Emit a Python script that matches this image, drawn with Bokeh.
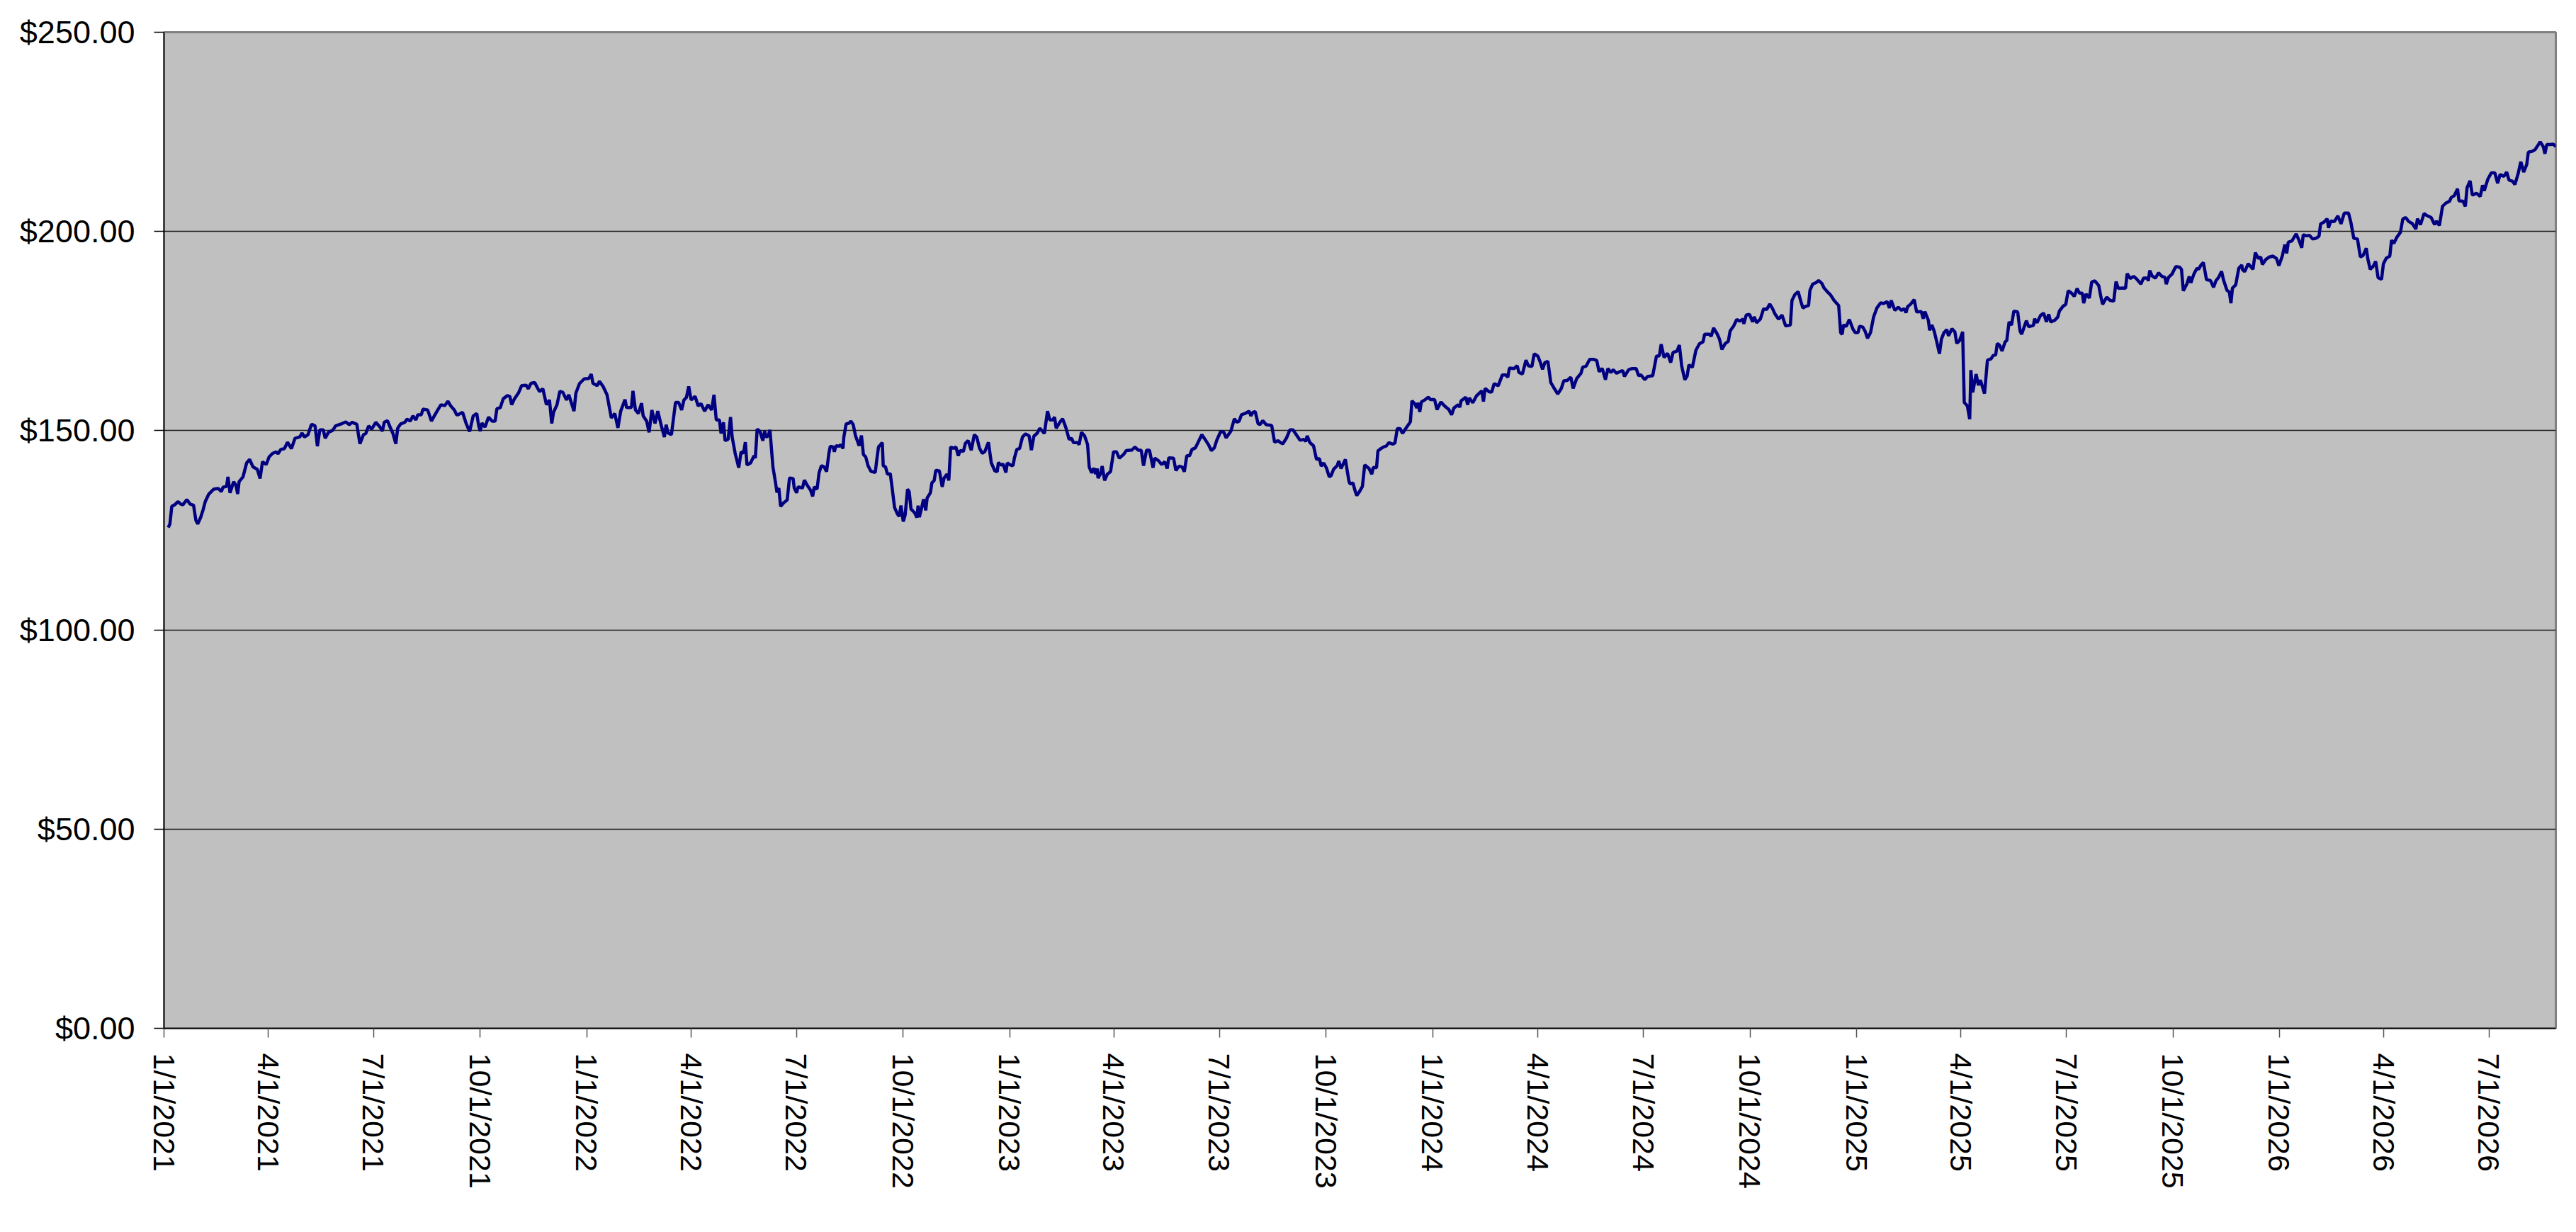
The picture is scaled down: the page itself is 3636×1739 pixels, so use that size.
import datetime
from bokeh.plotting import figure
from bokeh.models import Range1d, FixedTicker, NumeralTickFormatter, ColumnDataSource
from bokeh.embed import file_html
from bokeh.resources import INLINE

START_DATE = datetime.date(2021, 1, 1)

# ---- data: days since 1/1/2021 and closing values ----
DAYS_2021A = [
    3.7, 5.1, 6.7, 9.2, 12.2, 14.3, 16.3, 19.8, 22.4, 25.5,
    27.5, 29.1, 31.6, 33.6, 35.6, 38.7, 42.8, 46.9, 49.5, 50.9,
    54.0, 55.2, 57.0, 60.1, 62.1, 63.6, 64.8, 68.2, 71.3, 73.9,
    76.8, 80.5, 82.9, 85.0, 88.2, 90.7, 93.7, 96.8, 98.4, 100.8,
    103.9, 106.6, 110.0, 113.1, 117.1, 119.2, 121.2, 124.3, 127.3, 130.4,
    132.4, 134.5, 137.5, 139.1, 142.0, 145.7, 148.1, 153.8, 156.9, 159.9,
    162.4, 166.4, 169.1, 172.2, 174.2, 176.6, 179.3, 182.8, 186.4, 188.5,
    190.1, 192.9, 195.6, 197.6, 200.1, 201.7, 204.3, 207.8, 209.8, 212.5,
    214.9, 217.4, 219.0, 222.1, 223.5, 227.6, 230.8, 233.3, 236.3, 239.0,
    242.4, 245.1, 247.5, 250.6, 252.6]
PRICE_2021A = [
    125.7, 126.6, 131.0, 131.4, 132.2, 131.6, 131.4, 132.7, 131.6, 131.3,
    127.5, 126.6, 128.2, 130.0, 132.2, 134.1, 135.3, 135.5, 134.7, 135.8,
    136.0, 138.4, 134.4, 137.2, 136.3, 134.1, 137.2, 138.4, 141.9, 142.8,
    140.9, 140.3, 138.0, 142.2, 141.5, 143.4, 144.3, 144.7, 144.2, 145.3,
    145.5, 147.1, 145.5, 148.1, 148.4, 149.4, 148.4, 149.0, 151.6, 151.2,
    146.1, 150.2, 150.2, 148.1, 149.6, 150.1, 151.2, 151.8, 152.2, 151.5,
    152.1, 151.6, 146.7, 149.0, 149.3, 151.2, 150.4, 152.1, 150.9, 149.9,
    152.1, 152.5, 150.6, 149.3, 146.7, 150.6, 151.7, 152.1, 152.9, 152.4,
    153.7, 152.7, 154.0, 154.0, 155.4, 155.2, 152.4, 153.7, 155.2, 156.5,
    156.3, 157.4, 156.2, 155.2, 154.0]

DAYS_2021B = [
    253.7, 257.7, 260.8, 263.8, 266.9, 270.0, 271.6, 273.0, 274.4, 277.1,
    280.1, 283.2, 285.8, 287.3, 290.3, 292.8, 296.4, 298.5, 300.1, 302.5,
    306.2, 308.7, 312.7, 314.4, 316.8, 319.9, 324.1, 327.0, 330.1, 332.7,
    334.7, 336.2, 339.2, 341.7, 344.3, 347.4, 349.4, 353.9, 355.5, 358.6,
    362.7, 366.7, 368.8, 370.2, 373.9, 375.9, 379.0, 382.4, 386.1, 389.1,
    391.8, 394.2, 397.9, 399.3, 403.4, 404.8, 406.9, 409.5, 412.2, 413.6,
    416.6, 418.7, 421.1, 423.8, 426.2, 429.3, 431.9, 433.4, 435.0, 438.0,
    441.5, 444.1, 446.8, 448.8, 450.9, 452.9, 455.0, 458.4, 461.1, 463.5,
    466.6, 469.6, 472.7, 474.7, 476.7, 479.4, 480.8, 482.9, 484.3, 486.9,
    489.0, 490.4, 493.0, 496.1, 498.1, 500.2, 501.8, 503.2, 506.3, 509.3]
PRICE_2021B = [
    154.0, 154.6, 151.8, 149.8, 153.7, 154.3, 151.2, 149.9, 151.9, 150.9,
    153.4, 152.4, 152.4, 155.5, 155.8, 158.0, 158.8, 158.6, 156.5, 158.0,
    159.6, 161.3, 161.4, 160.5, 161.9, 162.1, 159.8, 160.5, 156.5, 157.7,
    151.8, 154.6, 156.5, 159.9, 159.6, 157.7, 159.0, 154.9, 159.4, 161.8,
    163.0, 163.1, 164.2, 161.9, 161.3, 162.4, 161.1, 159.0, 153.2, 154.3,
    150.7, 154.9, 157.8, 155.8, 155.8, 160.0, 155.2, 154.3, 156.9, 153.7,
    152.4, 149.6, 155.2, 151.8, 154.9, 151.2, 148.4, 151.5, 149.4, 149.0,
    157.1, 157.1, 155.2, 157.7, 158.3, 161.1, 157.7, 158.6, 156.2, 156.8,
    154.9, 156.5, 155.2, 159.0, 152.7, 152.7, 149.3, 152.1, 147.5, 147.8,
    153.4, 148.4, 144.3, 140.7, 144.7, 144.3, 147.1, 141.4, 141.9, 143.7]

DAYS_2022 = [
    510.4, 512.0, 514.4, 516.9, 518.5, 519.5, 521.6, 523.0, 525.6, 527.7,
    529.1, 530.7, 532.2, 534.8, 537.9, 539.9, 543.0, 544.0, 546.0, 547.4,
    551.1, 552.7, 555.2, 558.2, 559.9, 561.3, 563.7, 565.4, 567.4, 569.8,
    571.9, 573.9, 575.1, 577.6, 578.6, 580.0, 582.7, 584.1, 586.1, 586.8,
    588.8, 591.4, 592.9, 594.9, 596.9, 600.0, 602.0, 603.7, 605.7, 607.7,
    610.2, 613.9, 615.3, 616.7, 620.0, 620.8, 622.8, 624.4, 626.9, 628.5,
    630.6, 633.0, 634.6, 636.1, 638.1, 639.7, 641.8, 643.2, 644.8, 647.9,
    649.9, 650.9, 652.0, 654.0, 655.6, 657.5, 658.7, 661.5, 662.8, 664.8,
    666.2, 669.3, 671.7, 673.3, 675.8, 677.4, 679.0, 681.5, 683.5, 685.6,
    687.2, 690.0, 691.7, 694.1, 696.8, 699.4, 701.5, 703.9, 706.3, 708.4,
    711.6, 714.1, 717.2, 719.2, 720.2, 722.2, 724.3, 726.7, 727.9, 730.4,
    732.8, 734.1, 736.1, 738.5, 741.0, 743.6, 746.7, 748.7, 750.8, 753.8,
    755.9, 759.9, 762.6, 764.6]
PRICE_2022 = [
    143.1, 150.4, 149.8, 147.5, 149.9, 148.4, 148.7, 150.2, 140.9, 137.2,
    134.5, 135.6, 131.0, 131.9, 132.6, 138.1, 138.0, 135.6, 134.4, 135.9,
    135.6, 137.6, 136.3, 135.0, 133.5, 135.9, 135.3, 139.4, 141.2, 140.9,
    139.7, 144.3, 146.1, 145.9, 144.7, 146.2, 146.1, 146.5, 145.5, 148.4,
    151.7, 151.9, 152.4, 151.5, 148.7, 146.2, 148.8, 144.0, 143.4, 141.2,
    139.8, 139.5, 142.8, 145.9, 147.0, 141.2, 140.9, 139.1, 139.2, 135.6,
    130.7, 129.1, 128.5, 131.2, 127.2, 128.8, 135.3, 134.7, 130.3, 129.4,
    128.2, 131.2, 128.3, 130.7, 132.8, 130.0, 133.1, 134.4, 136.9, 137.5,
    140.1, 139.9, 135.9, 138.1, 139.1, 137.5, 145.9, 145.6, 145.9, 143.7,
    145.0, 144.8, 146.8, 147.5, 145.1, 149.0, 148.4, 145.6, 144.3, 144.7,
    147.1, 141.9, 139.9, 139.7, 142.0, 141.4, 141.6, 139.5, 141.9, 141.4,
    141.2, 143.2, 145.3, 145.5, 148.4, 149.2, 148.7, 145.1, 148.6, 149.4,
    150.6, 149.3, 154.9, 152.7]

DAYS_2023 = [
    767.1, 768.7, 770.1, 773.2, 775.6, 778.3, 781.3, 783.4, 785.0, 788.5,
    789.9, 791.9, 794.6, 797.2, 798.6, 800.7, 802.7, 804.1, 805.4, 806.2,
    808.2, 809.8, 811.9, 814.3, 817.0, 819.6, 822.1, 824.5, 828.2, 830.6,
    833.3, 835.3, 838.0, 840.8, 843.5, 845.5, 848.1, 850.6, 853.7, 855.1,
    858.3, 861.2, 863.8, 865.9, 867.3, 871.4, 873.4, 876.1, 878.7, 880.7,
    882.8, 885.2, 887.3, 890.3, 893.0, 895.8, 899.1, 901.5, 904.0, 906.6,
    908.7, 912.1, 914.8, 916.8, 920.9, 923.9, 926.0, 928.0, 930.0, 933.1,
    936.6, 938.2, 939.8, 941.9, 944.3, 945.9, 948.4, 951.4, 956.1, 958.6,
    961.6, 963.7, 965.7, 968.8, 971.8, 974.5, 977.3, 980.6, 984.0, 985.5,
    986.7, 989.1, 992.2, 994.8, 997.3, 998.9, 1001.0, 1003.4, 1005.8, 1007.5,
    1009.5, 1012.6, 1014.0, 1016.0, 1019.7, 1022.8]
PRICE_2023 = [
    152.7, 153.4, 150.6, 152.1, 153.0, 150.9, 147.8, 148.1, 147.0, 147.0,
    146.5, 149.6, 148.7, 146.5, 140.9, 139.4, 140.6, 139.1, 140.5, 138.1,
    139.1, 141.1, 137.5, 139.1, 139.7, 144.7, 144.7, 143.1, 144.0, 145.0,
    145.1, 145.1, 145.9, 145.1, 145.1, 141.2, 145.1, 145.1, 140.7, 143.1,
    142.5, 141.5, 142.2, 140.5, 143.2, 143.1, 140.0, 141.1, 140.9, 139.7,
    143.7, 143.7, 145.3, 145.7, 147.3, 149.0, 147.6, 146.5, 145.0, 145.7,
    147.6, 149.8, 149.6, 148.2, 149.9, 153.0, 152.1, 152.4, 154.0, 154.3,
    154.9, 153.7, 154.6, 154.8, 151.8, 151.5, 152.5, 151.5, 151.3, 147.1,
    147.5, 147.0, 146.7, 148.1, 150.2, 150.2, 149.0, 147.6, 147.8, 147.3,
    148.7, 147.0, 146.2, 142.8, 143.0, 141.1, 141.9, 140.6, 138.4, 138.8,
    140.3, 141.2, 142.4, 140.5, 142.8, 137.3]

DAYS_2024A = [
    1023.8, 1026.2, 1027.9, 1029.5, 1031.9, 1034.4, 1036.4, 1040.1, 1042.5, 1043.8,
    1046.6, 1047.8, 1050.3, 1053.3, 1054.8, 1057.4, 1060.5, 1062.5, 1064.5, 1067.0,
    1069.0, 1072.7, 1075.8, 1077.2, 1079.8, 1081.3, 1082.5, 1083.9, 1085.3, 1088.6,
    1091.4, 1093.1, 1096.7, 1098.8, 1102.2, 1105.3, 1109.0, 1111.4, 1113.4, 1117.1,
    1118.5, 1119.6, 1123.6, 1125.3, 1126.7, 1129.7, 1132.8, 1137.5, 1138.9, 1140.3,
    1144.0, 1146.0, 1148.1, 1151.7, 1155.2, 1158.3, 1159.9, 1161.3, 1165.4, 1168.0,
    1169.5, 1172.5, 1175.6, 1177.6, 1180.7, 1182.7, 1185.8, 1187.8, 1189.9, 1191.9,
    1194.5, 1197.0, 1200.0, 1203.1, 1206.1, 1208.2, 1211.2, 1214.3, 1216.3, 1219.4,
    1223.1, 1224.5, 1227.5, 1230.6, 1233.7, 1236.7, 1238.7, 1241.4, 1244.2, 1246.3,
    1248.9, 1251.0, 1253.6, 1256.5, 1259.1, 1260.6, 1264.2, 1267.3, 1270.7, 1272.8,
    1274.8, 1278.1]
PRICE_2024A = [
    136.6, 136.9, 135.1, 133.7, 134.7, 136.0, 141.4, 140.5, 139.1, 140.8,
    140.7, 144.9, 145.5, 146.0, 146.1, 147.0, 146.6, 146.9, 150.5, 150.5,
    149.3, 150.9, 152.2, 157.5, 156.7, 155.7, 157.0, 154.7, 157.2, 157.8,
    158.4, 157.8, 157.8, 155.3, 157.2, 156.2, 155.3, 154.0, 155.7, 156.5,
    155.9, 157.5, 158.4, 156.5, 158.2, 157.0, 158.7, 160.0, 157.3, 160.6,
    159.7, 159.7, 161.8, 161.3, 164.0, 164.0, 163.4, 165.7, 165.6, 166.3,
    164.6, 164.2, 167.7, 166.3, 166.1, 169.3, 168.7, 167.3, 165.4, 167.1,
    167.4, 162.1, 160.6, 159.2, 160.6, 162.5, 162.6, 163.4, 160.6, 163.1,
    164.4, 165.9, 166.2, 167.9, 167.9, 167.6, 164.8, 165.6, 162.8, 165.6,
    164.6, 165.3, 164.4, 164.8, 165.1, 163.6, 165.3, 165.6, 165.6, 163.8,
    164.0, 162.8]

DAYS_2024B = [
    1280.5, 1285.0, 1288.2, 1290.7, 1292.3, 1294.8, 1297.8, 1300.5, 1302.5, 1306.0,
    1308.0, 1310.0, 1312.7, 1314.7, 1316.2, 1319.2, 1322.3, 1325.3, 1328.4, 1329.8,
    1333.9, 1335.5, 1337.5, 1340.6, 1342.6, 1344.7, 1347.7, 1350.2, 1351.8, 1354.9,
    1357.5, 1360.0, 1363.0, 1363.6, 1365.7, 1368.5, 1371.2, 1372.6, 1374.6, 1377.9,
    1380.7, 1383.4, 1386.0, 1388.5, 1390.5, 1393.6, 1396.6, 1399.7, 1403.8, 1405.2,
    1407.8, 1410.5, 1412.9, 1414.6, 1417.0, 1419.5, 1420.7, 1423.1, 1426.2, 1428.2,
    1430.9, 1432.9, 1435.3, 1438.4, 1441.5, 1445.5, 1447.2, 1448.6, 1449.6, 1452.1,
    1454.7, 1457.8, 1459.8, 1462.2, 1463.5, 1466.3, 1468.4, 1470.4, 1473.0, 1475.7,
    1478.5, 1481.8, 1484.2, 1487.3, 1489.3, 1490.8, 1494.0, 1496.9, 1499.5, 1502.2,
    1503.6, 1505.0, 1507.7, 1510.7, 1512.8, 1516.8, 1518.5, 1519.9, 1522.9, 1524.0,
    1526.0, 1528.0, 1530.1, 1532.5, 1534.2, 1536.8]
PRICE_2024B = [
    163.6, 163.8, 168.7, 168.8, 171.7, 168.4, 169.4, 167.1, 169.6, 170.0,
    171.5, 166.2, 162.8, 163.7, 166.5, 165.9, 170.2, 171.8, 172.3, 174.2,
    174.2, 173.7, 175.8, 174.3, 173.0, 170.4, 171.9, 172.4, 175.0, 176.3,
    177.9, 177.5, 178.0, 176.8, 179.0, 179.2, 177.3, 178.6, 177.1, 178.0,
    180.6, 180.4, 181.8, 180.6, 179.3, 178.0, 179.0, 176.3, 176.5, 182.7,
    184.2, 184.9, 182.4, 180.8, 181.2, 181.4, 185.2, 186.8, 187.2, 187.7,
    187.0, 185.8, 185.0, 184.1, 182.7, 181.4, 174.6, 174.2, 176.5, 176.2,
    177.9, 175.5, 174.6, 174.6, 176.2, 176.0, 174.9, 173.2, 174.6, 178.6,
    180.8, 182.1, 181.9, 182.4, 180.8, 182.7, 180.2, 181.0, 180.2, 180.6,
    179.6, 181.1, 181.8, 182.9, 179.8, 179.9, 178.1, 179.9, 177.7, 175.2,
    176.5, 174.9, 172.4, 169.3, 173.0, 174.9]

DAYS_2025 = [
    1537.2, 1538.8, 1540.3, 1543.3, 1545.8, 1547.4, 1549.8, 1552.5, 1553.9, 1556.6,
    1558.6, 1559.6, 1561.2, 1564.1, 1566.1, 1567.8, 1571.4, 1573.9, 1576.9, 1579.0,
    1581.0, 1582.4, 1584.5, 1586.5, 1589.2, 1590.6, 1592.6, 1594.7, 1596.7, 1600.0,
    1602.0, 1603.4, 1607.5, 1609.5, 1613.6, 1614.6, 1616.7, 1619.7, 1622.4, 1624.8,
    1626.8, 1628.5, 1631.9, 1634.6, 1636.0, 1639.1, 1641.5, 1643.6, 1646.2, 1648.9,
    1651.3, 1653.3, 1655.8, 1657.0, 1659.0, 1661.9, 1663.9, 1666.6, 1670.0, 1671.7,
    1673.3, 1676.8, 1679.8, 1682.9, 1684.9, 1686.9, 1690.4, 1693.1, 1694.5, 1697.1,
    1700.2, 1702.6, 1706.3, 1708.7, 1712.0, 1712.8, 1714.0, 1716.1, 1718.9, 1721.6,
    1724.6, 1727.1, 1728.3, 1730.3, 1733.2, 1736.5, 1739.9, 1741.4, 1743.0, 1746.0,
    1748.1, 1749.5, 1752.1, 1754.8, 1756.2, 1758.3, 1760.3, 1763.0, 1766.4, 1769.1,
    1771.1, 1773.5, 1776.0, 1777.6, 1780.7, 1782.7, 1784.1, 1785.4, 1788.2, 1790.9,
    1793.5]
PRICE_2025 = [
    174.8, 175.4, 173.8, 175.6, 174.8, 171.9, 172.6, 174.8, 157.1, 156.2,
    152.9, 165.2, 159.6, 164.2, 161.4, 162.7, 159.3, 167.7, 168.0, 168.9,
    169.0, 171.9, 171.4, 170.0, 172.3, 172.6, 177.3, 176.5, 180.0, 179.8,
    175.1, 174.2, 177.6, 176.1, 176.4, 178.1, 177.1, 178.9, 179.5, 177.3,
    179.2, 177.3, 177.7, 178.5, 180.0, 181.2, 181.7, 185.1, 184.6, 183.7,
    185.7, 184.5, 184.5, 182.0, 184.3, 183.3, 187.3, 187.6, 186.4, 183.8,
    181.7, 183.5, 182.7, 182.5, 187.4, 185.7, 185.8, 185.7, 189.4, 188.2,
    188.7, 188.1, 186.8, 188.3, 188.3, 187.6, 190.2, 188.8, 188.3, 189.6,
    188.7, 188.5, 186.8, 188.5, 189.3, 191.2, 191.0, 190.5, 185.1, 186.8,
    188.7, 187.1, 189.3, 190.8, 190.5, 191.6, 192.2, 187.9, 187.7, 186.0,
    187.6, 188.5, 190.0, 187.9, 185.2, 184.8, 182.0, 185.8, 186.6, 190.8,
    191.6]

DAYS_2026 = [
    1793.9, 1795.9, 1799.0, 1803.1, 1805.1, 1807.8, 1809.8, 1811.2, 1814.3, 1817.3,
    1820.4, 1823.4, 1825.5, 1828.5, 1830.6, 1832.2, 1833.6, 1836.7, 1840.4, 1842.8,
    1845.2, 1846.5, 1848.9, 1852.0, 1854.6, 1857.5, 1860.1, 1861.5, 1864.2, 1867.2,
    1868.3, 1870.3, 1873.4, 1876.4, 1879.1, 1881.9, 1885.6, 1887.6, 1890.1, 1893.3,
    1895.8, 1898.2, 1900.9, 1902.3, 1904.3, 1907.0, 1909.0, 1911.1, 1914.1, 1915.7,
    1918.2, 1921.2, 1922.7, 1924.7, 1927.4, 1930.4, 1932.4, 1934.9, 1937.5, 1940.6,
    1943.7, 1945.1, 1947.7, 1950.8, 1953.2, 1956.9, 1959.9, 1961.4, 1964.0, 1966.7,
    1969.5, 1972.8, 1974.2, 1976.9, 1979.7, 1980.9, 1984.4, 1986.4, 1987.9, 1990.5,
    1992.5, 1996.0, 1999.3, 2001.3, 2002.7, 2005.8, 2008.8, 2011.9, 2014.3, 2016.4,
    2019.6, 2022.1, 2024.1, 2027.2, 2029.2, 2031.9, 2034.3, 2036.8, 2039.4, 2040.8,
    2044.1, 2046.5, 2048.6, 2051.0, 2053.7, 2055.1, 2056.7, 2059.8, 2062.4, 2064.5]
PRICE_2026 = [
    190.5, 189.9, 191.9, 190.5, 194.7, 193.2, 193.6, 191.7, 193.0, 193.6,
    193.8, 193.2, 191.4, 193.9, 196.7, 194.5, 197.3, 197.6, 199.4, 197.8,
    195.9, 199.2, 198.9, 199.0, 198.1, 198.3, 198.8, 201.9, 202.3, 203.2,
    200.9, 202.6, 202.5, 203.9, 201.9, 204.6, 204.6, 202.3, 198.3, 198.1,
    193.6, 194.0, 195.8, 193.0, 190.5, 191.3, 192.5, 188.4, 188.0, 191.9,
    193.3, 193.8, 197.8, 197.0, 198.6, 199.8, 203.1, 203.5, 202.5, 202.0,
    200.6, 203.2, 201.7, 204.5, 204.0, 203.5, 201.7, 202.6, 201.5, 206.3,
    207.1, 207.6, 208.5, 209.0, 210.7, 207.7, 207.6, 206.3, 211.0, 212.7,
    209.1, 209.6, 208.8, 211.6, 210.2, 213.1, 214.7, 214.7, 212.1, 214.3,
    213.8, 214.9, 212.9, 212.6, 211.8, 214.4, 217.5, 214.9, 216.8, 219.9,
    220.1, 220.5, 221.4, 222.5, 221.3, 219.5, 221.8, 221.8, 221.9, 221.3]

Y_TICKS = [0, 50, 100, 150, 200, 250]
TICK_MONTHS = [1, 4, 7, 10]
LAST_TICK = datetime.date(2026, 7, 1)

# ---- assemble ----
segments = [(DAYS_2021A, PRICE_2021A), (DAYS_2021B, PRICE_2021B), (DAYS_2022, PRICE_2022),
            (DAYS_2023, PRICE_2023), (DAYS_2024A, PRICE_2024A), (DAYS_2024B, PRICE_2024B),
            (DAYS_2025, PRICE_2025), (DAYS_2026, PRICE_2026)]
days, prices = [], []
for d, v in segments:
    n = min(len(d), len(v))
    days.extend(d[:n])
    prices.extend(v[:n])

source = ColumnDataSource(data=dict(day=days, price=prices))

tick_days, tick_labels = [], {}
for y in range(2021, 2027):
    for m in TICK_MONTHS:
        dt = datetime.date(y, m, 1)
        if dt <= LAST_TICK:
            off = (dt - START_DATE).days
            tick_days.append(off)
            tick_labels[off] = f"{dt.month}/{dt.day}/{dt.year}"

FONT = "Liberation Sans"

p = figure(width=3636, height=1739, output_backend="svg", toolbar_location=None,
           x_range=Range1d(0, max(days)), y_range=Range1d(0, 250))
p.min_border_left = 231
p.min_border_right = 29
p.min_border_top = 45
p.min_border_bottom = 288
p.background_fill_color = "#C0C0C0"
p.border_fill_color = "white"
p.outline_line_color = "#808080"
p.outline_line_width = 3

p.line("day", "price", source=source, line_color="#000080", line_width=4.5)

# y axis
p.yaxis.ticker = FixedTicker(ticks=Y_TICKS)
p.yaxis.formatter = NumeralTickFormatter(format="$0.00")
p.yaxis.major_label_text_font = FONT
p.yaxis.major_label_text_font_size = "45px"
p.yaxis.major_label_text_color = "black"
p.yaxis.major_tick_out = 14
p.yaxis.major_tick_in = 0
p.yaxis.minor_tick_line_color = None
p.yaxis.axis_line_color = "black"
p.yaxis.axis_line_width = 1.5
p.yaxis.major_tick_line_color = "black"
p.yaxis.major_tick_line_width = 1.5
p.yaxis.major_label_standoff = 27

# x axis
p.xaxis.ticker = FixedTicker(ticks=tick_days)
p.xaxis.major_label_overrides = tick_labels
p.xaxis.major_label_orientation = "vertical"
p.xaxis.major_label_text_font = FONT
p.xaxis.major_label_text_font_size = "43px"
p.xaxis.major_label_text_color = "black"
p.xaxis.major_tick_out = 13
p.xaxis.major_tick_in = 0
p.xaxis.minor_tick_line_color = None
p.xaxis.axis_line_color = "black"
p.xaxis.axis_line_width = 1.5
p.xaxis.major_tick_line_color = "#555555"
p.xaxis.major_tick_line_width = 1.5
p.xaxis.major_label_standoff = 22

# grid
p.xgrid.visible = False
p.ygrid.ticker = FixedTicker(ticks=Y_TICKS)
p.ygrid.grid_line_color = "#1a1a1a"
p.ygrid.grid_line_width = 1.5

open("out.html", "w").write(file_html(p, INLINE))
